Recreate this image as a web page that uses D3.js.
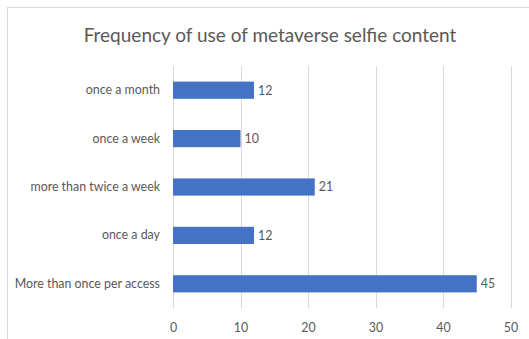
<!DOCTYPE html>
<html>
<head>
<meta charset="utf-8">
<script src="https://cdn.jsdelivr.net/npm/d3@7"></script>
<style>
  html, body { margin: 0; padding: 0; background: #fff; }
  svg { display: block; }
  text { font-family: Lato, "Open Sans", sans-serif; fill: #595959; }
</style>
</head>
<body>
<div id="chart"></div>
<script>
// Responses per frequency category (top to bottom as displayed)
const categories = [
  "once a month",
  "once a week",
  "more than twice a week",
  "once a day",
  "More than once per access"
];
const values = [12, 10, 21, 12, 45];
const xTicks = [0, 10, 20, 30, 40, 50];
const title = "Frequency of use of metaverse selfie content";

const W = 529, H = 339;
const margin = { top: 66, right: 18.5, bottom: 31, left: 173 };
const labelSize = 12.4;

const svg = d3.select("#chart").append("svg")
  .attr("width", W).attr("height", H);

// Chart frame (only top and left edges fall inside the view)
svg.append("rect")
  .attr("x", 7.5).attr("y", 7.5)
  .attr("width", W + 10).attr("height", H + 10)
  .attr("fill", "none").attr("stroke", "#d9d9d9").attr("stroke-width", 1);

const x = d3.scaleLinear()
  .domain([0, 50])
  .range([margin.left, W - margin.right]);

const y = d3.scaleBand()
  .domain(categories)
  .range([margin.top, H - margin.bottom])
  .paddingInner(0.645)
  .paddingOuter(0.3225);

// Vertical gridlines
svg.append("g").selectAll("line")
  .data(xTicks)
  .join("line")
  .attr("x1", d => Math.round(x(d)) + 0.5)
  .attr("x2", d => Math.round(x(d)) + 0.5)
  .attr("y1", margin.top)
  .attr("y2", H - margin.bottom)
  .attr("stroke", "#d9d9d9")
  .attr("stroke-width", 1);

// Bottom axis tick labels
const xAxis = d3.axisBottom(x).tickValues(xTicks).tickSize(0).tickPadding(0);
const gx = svg.append("g")
  .attr("transform", `translate(0,${H - margin.bottom + 15})`)
  .call(xAxis);
gx.select(".domain").remove();
gx.selectAll("text")
  .attr("font-size", labelSize)
  .attr("fill", "#595959")
  .style("font-family", "Lato, 'Open Sans', sans-serif");

// Category labels
const yAxis = d3.axisLeft(y).tickSize(0).tickPadding(13);
const gy = svg.append("g")
  .attr("transform", `translate(${margin.left},0)`)
  .call(yAxis);
gy.select(".domain").remove();
gy.selectAll("text")
  .attr("font-size", labelSize)
  .attr("fill", "#595959")
  .style("font-family", "Lato, 'Open Sans', sans-serif");

// Bars
svg.append("g").selectAll("rect")
  .data(categories)
  .join("rect")
  .attr("x", x(0))
  .attr("y", d => y(d))
  .attr("width", (d, i) => x(values[i]) - x(0))
  .attr("height", y.bandwidth())
  .attr("fill", "#4472c4");

// Value labels
svg.append("g").selectAll("text")
  .data(categories)
  .join("text")
  .attr("x", (d, i) => x(values[i]) + 4)
  .attr("y", d => y(d) + y.bandwidth() / 2)
  .attr("dy", "0.35em")
  .attr("font-size", labelSize)
  .text((d, i) => values[i]);

// Title
svg.append("text")
  .attr("x", 270)
  .attr("y", 42)
  .attr("text-anchor", "middle")
  .attr("font-size", 19)
  .text(title);
</script>
</body>
</html>
